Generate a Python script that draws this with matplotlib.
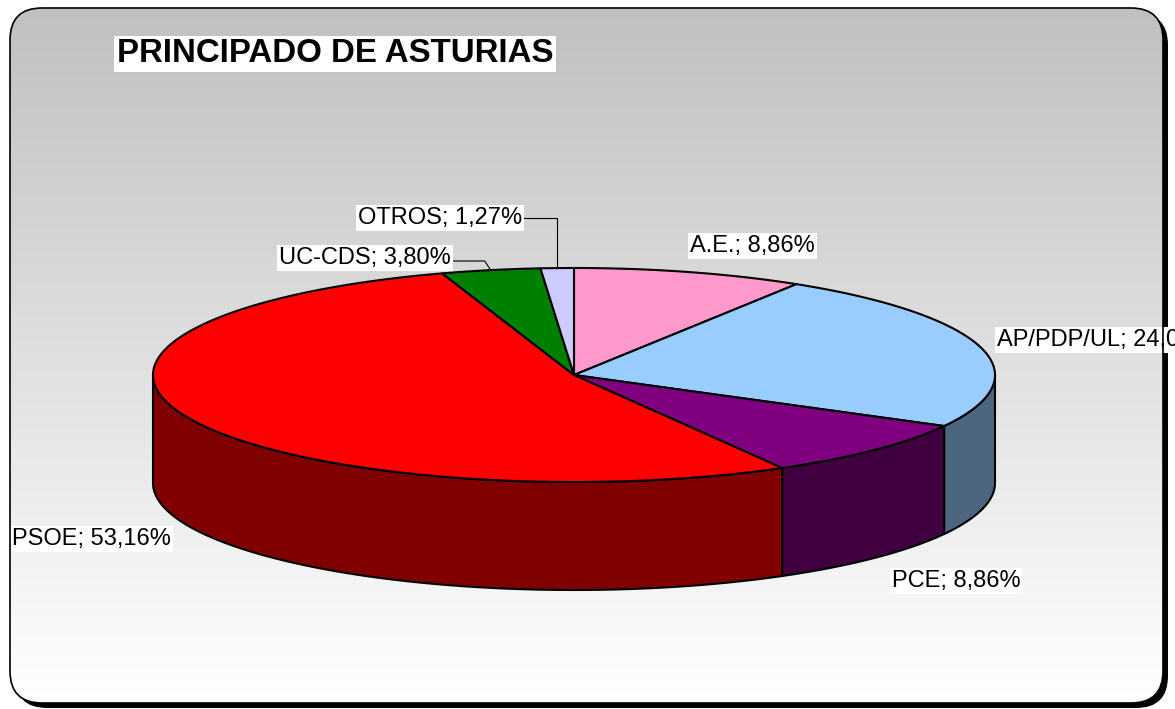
import numpy as np
import matplotlib.pyplot as plt
from matplotlib.patches import Polygon, FancyBboxPatch

plt.rcParams["font.family"] = ["Liberation Sans", "DejaVu Sans"]

# datos (en %), en el orden del gráfico, en sentido horario desde arriba
partidos = ["A.E.", "AP/PDP/UL", "PCE", "PSOE", "UC-CDS", "OTROS"]
porcentajes = [8.86, 24.05, 8.86, 53.16, 3.80, 1.27]
color_sup = ["#FF99CC", "#99CCFF", "#800080", "#FF0000", "#008000", "#CCCCFF"]
color_lado = ["#804C66", "#4C6680", "#400040", "#800000", "#004000", "#666680"]
titulo = "PRINCIPADO DE ASTURIAS"

# posiciones de las etiquetas (pixeles)
pos_etiq = {
    "A.E.": (752, 246, "center"),
    "AP/PDP/UL": (997, 340, "left"),
    "PCE": (956, 581, "center"),
    "PSOE": (12, 539, "left"),
    "UC-CDS": (451, 258, "right"),
    "OTROS": (522, 218, "right"),
}

W, H = 1175, 709
fig = plt.figure(figsize=(W / 100, H / 100), dpi=100)
ax = fig.add_axes([0, 0, 1, 1])
ax.set_xlim(0, W)
ax.set_ylim(H, 0)
ax.axis("off")

# marco con sombra y degradado
x0, y0, x1, y1 = 10, 8, 1163, 703
sombra = FancyBboxPatch((x0 + 5, y0 + 5), x1 - x0, y1 - y0,
                        boxstyle="round,pad=0,rounding_size=32",
                        fc="black", ec="none", zorder=1)
ax.add_patch(sombra)
marco = FancyBboxPatch((x0, y0), x1 - x0, y1 - y0,
                       boxstyle="round,pad=0,rounding_size=32",
                       fc="white", ec="none", zorder=2)
ax.add_patch(marco)
grad = np.linspace(192, 255, 256)[:, None] / 255.0
grad = np.dstack([grad, grad, grad])
im = ax.imshow(grad, extent=[x0, x1, y1, y0], aspect="auto", zorder=3,
               interpolation="bilinear")
im.set_clip_path(marco)
borde = FancyBboxPatch((x0, y0), x1 - x0, y1 - y0,
                       boxstyle="round,pad=0,rounding_size=32",
                       fc="none", ec="black", lw=1.2, zorder=20)
ax.add_patch(borde)

# tarta 3D
cx, cy = 574, 375
ra, rb = 421, 107
prof = 108
lw = 1.5

def pt(t):
    t = np.radians(t)
    return cx + ra * np.cos(t), cy - rb * np.sin(t)

bordes = 90 - np.concatenate([[0], np.cumsum(porcentajes)]) * 3.6

# caras laterales (sólo la mitad delantera)
for i in range(len(porcentajes)):
    t0, t1 = bordes[i], bordes[i + 1]
    a0, a1 = min(t0, 0), max(t1, -180)
    if a0 <= a1:
        continue
    ts = np.linspace(a0, a1, 120)
    xs, ys = pt(ts)
    poly = np.vstack([np.column_stack([xs, ys]),
                      np.column_stack([xs[::-1], ys[::-1] + prof])])
    ax.add_patch(Polygon(poly, closed=True, fc=color_lado[i], ec="black",
                         lw=lw, zorder=5, joinstyle="round"))

# caras superiores
for i in range(len(porcentajes)):
    ts = np.linspace(bordes[i], bordes[i + 1], 200)
    xs, ys = pt(ts)
    poly = np.vstack([[cx, cy], np.column_stack([xs, ys])])
    ax.add_patch(Polygon(poly, closed=True, fc=color_sup[i], ec="black",
                         lw=lw, zorder=6, joinstyle="round"))

# etiquetas
for i, p in enumerate(partidos):
    txt = p + "; " + f"{porcentajes[i]:.2f}".replace(".", ",") + "%"
    x, y, ha = pos_etiq[p]
    ax.text(x, y, txt, fontsize=17, ha=ha, va="center", zorder=10,
            bbox=dict(fc="white", ec="none", pad=1.5))

# líneas guía
for p in ["UC-CDS", "OTROS"]:
    i = partidos.index(p)
    tm = (bordes[i] + bordes[i + 1]) / 2
    xe, ye = pt(tm)
    x, y, _ = pos_etiq[p]
    yl = y + 3 if p == "UC-CDS" else y
    xq = xe - 6 if p == "UC-CDS" else xe
    ax.plot([x + 2, xq, xe], [yl, yl, ye], color="black", lw=0.8, zorder=7)

ax.text(117, 54, titulo, fontsize=23.8, fontweight="bold", ha="left",
        va="center", zorder=10, bbox=dict(fc="white", ec="none", pad=2))

fig.savefig("out.png", dpi=100)
